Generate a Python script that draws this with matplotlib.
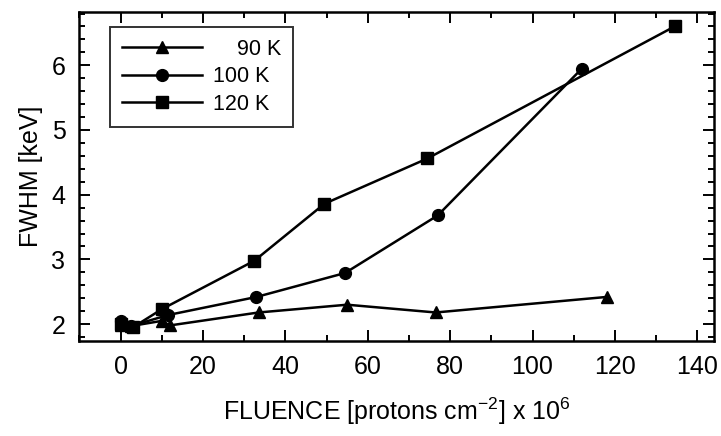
import numpy as np
import matplotlib
matplotlib.use("Agg")
from matplotlib import pyplot as plt
from matplotlib.ticker import MultipleLocator

plt.rcParams['font.family'] = ['Liberation Sans', 'DejaVu Sans']
plt.rcParams['mathtext.fontset'] = 'custom'
plt.rcParams['mathtext.rm'] = 'Liberation Sans'
plt.rcParams['mathtext.default'] = 'rm'

# data
x_90 = [0, 2.5, 10, 12, 33.5, 55, 76.5, 118]
y_90 = [1.98, 1.97, 2.05, 1.98, 2.18, 2.3, 2.18, 2.42]
x_100 = [0, 2.5, 11.5, 33, 54.5, 77, 112]
y_100 = [2.05, 1.97, 2.14, 2.42, 2.79, 3.68, 5.95]
x_120 = [0, 3, 10, 32.5, 49.5, 74.5, 134.5]
y_120 = [2.0, 1.95, 2.23, 2.98, 3.86, 4.56, 6.6]
labels = ['\u2007\u200790 K', '100 K', '120 K']

fig = plt.figure(figsize=(7.21, 4.36), dpi=100)
ax = fig.add_axes([0.11, 0.218, 0.88, 0.754])

ax.plot(x_90, y_90, 'k-', marker='^', ms=8.5, lw=1.8, label=labels[0])
ax.plot(x_100, y_100, 'k-', marker='o', ms=8.5, lw=1.8, label=labels[1])
ax.plot(x_120, y_120, 'k-', marker='s', ms=8.5, lw=1.8, label=labels[2])

ax.set_xlim(-10, 144)
ax.set_ylim(1.74, 6.82)
ax.xaxis.set_major_locator(MultipleLocator(20))
ax.xaxis.set_minor_locator(MultipleLocator(10))
ax.yaxis.set_major_locator(MultipleLocator(1))
ax.yaxis.set_minor_locator(MultipleLocator(0.2))
ax.tick_params(which='both', direction='in', top=True, right=True, width=1.4)
ax.tick_params(which='major', length=8, labelsize=18, pad=10)
ax.tick_params(which='minor', length=4)
for s in ax.spines.values():
    s.set_linewidth(1.8)

ax.set_xlabel('FLUENCE [protons cm$^{-2}$] x 10$^6$', fontsize=18, labelpad=12)
ax.set_ylabel('FWHM [keV]', fontsize=18, labelpad=6)

leg = ax.legend(loc='upper left', bbox_to_anchor=(0.049, 0.955), borderaxespad=0,
                fontsize=15.5, frameon=True, fancybox=False, edgecolor='k',
                handlelength=3.7, handletextpad=0.5, labelspacing=0.3, borderpad=0.55)
leg.get_frame().set_linewidth(1.4)

fig.savefig('out.png', dpi=100)
